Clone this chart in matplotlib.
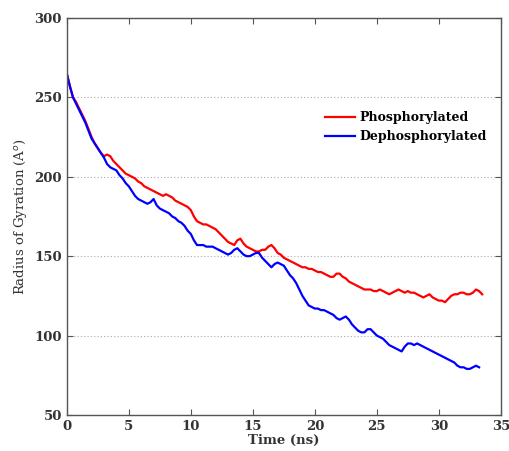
import numpy as np
import matplotlib
matplotlib.use("Agg")
import matplotlib.pyplot as plt

# Radius of gyration traces (sampled every 0.25 ns)
time_red = np.arange(0, 33.51, 0.25)
phospho = [
    265, 257, 250, 247, 243, 239, 235, 230, 225, 221, 218, 215, 213, 214, 213, 210,
    208, 206, 204, 202, 201, 200, 199, 197, 196, 194, 193, 192, 191, 190, 189, 188,
    189, 188, 187, 185, 184, 183, 182, 181, 179, 175, 172, 171, 170, 170, 169, 168,
    167, 165, 163, 161, 159, 158, 157, 160, 161, 158, 156, 155, 154, 153, 153, 154,
    154, 156, 157, 155, 152, 151, 149, 148, 147, 146, 145, 144, 143, 143, 142, 142,
    141, 140, 140, 139, 138, 137, 137, 139, 139, 137, 136, 134, 133, 132, 131, 130,
    129, 129, 129, 128, 128, 129, 128, 127, 126, 127, 128, 129, 128, 127, 128, 127,
    127, 126, 125, 124, 125, 126, 124, 123, 122, 122, 121, 123, 125, 126, 126, 127,
    127, 126, 126, 127, 129, 128, 126,
]
time_blue = np.arange(0, 33.26, 0.25)
dephospho = [
    265, 257, 250, 246, 242, 238, 234, 229, 224, 221, 218, 215, 212, 208, 206, 205,
    204, 201, 199, 196, 194, 191, 188, 186, 185, 184, 183, 184, 186, 182, 180, 179,
    178, 177, 175, 174, 172, 171, 169, 166, 164, 160, 157, 157, 157, 156, 156, 156,
    155, 154, 153, 152, 151, 152, 154, 155, 153, 151, 150, 150, 151, 152, 152, 149,
    147, 145, 143, 145, 146, 145, 144, 141, 138, 136, 133, 129, 125, 122, 119, 118,
    117, 117, 116, 116, 115, 114, 113, 111, 110, 111, 112, 110, 107, 105, 103, 102,
    102, 104, 104, 102, 100, 99, 98, 96, 94, 93, 92, 91, 90, 93, 95, 95,
    94, 95, 94, 93, 92, 91, 90, 89, 88, 87, 86, 85, 84, 83, 81, 80,
    80, 79, 79, 80, 81, 80,
]

x_ticks = [0, 5, 10, 15, 20, 25, 30, 35]
y_ticks = [50, 100, 150, 200, 250, 300]

fig = plt.figure(figsize=(5.1, 4.51), dpi=100)
ax = fig.add_axes([0.131, 0.080, 0.851, 0.880])

ax.plot(time_red, phospho, color='#ff0000', lw=1.6, label='Phosphorylated')
ax.plot(time_blue, dephospho, color='#0000ff', lw=1.6, label='Dephosphorylated')

ax.set_xlim(0, 35)
ax.set_ylim(50, 300)
ax.set_xticks(x_ticks)
ax.set_yticks(y_ticks)
ax.yaxis.grid(True, linestyle=(0, (1, 2)), color='#aaaaaa', lw=0.8)

for s in ax.spines.values():
    s.set_color('#555555')
    s.set_linewidth(1.0)
ax.tick_params(direction='in', top=True, right=True, length=4, color='#555555')
for lab in ax.get_xticklabels() + ax.get_yticklabels():
    lab.set_family('DejaVu Serif')
    lab.set_fontweight('bold')
    lab.set_fontsize(9.5)
    lab.set_color('#333333')

ax.set_xlabel('Time (ns)', family='DejaVu Serif', fontweight='bold', fontsize=9.5,
              color='#333333', labelpad=1)
ax.set_ylabel('Radius of Gyration (A$^{o}$)', family='DejaVu Serif', fontsize=9.5,
              color='#333333', labelpad=4)

ax.legend(loc='center left', bbox_to_anchor=(0.57, 0.725), frameon=False,
          prop={'family': 'DejaVu Serif', 'weight': 'bold', 'size': 9},
          handlelength=2.4, handletextpad=0.3, labelspacing=0.45)

fig.savefig('out.png', dpi=100)
